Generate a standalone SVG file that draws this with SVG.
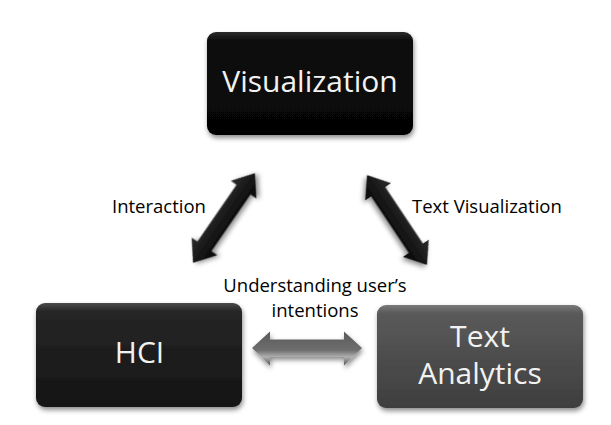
<svg xmlns="http://www.w3.org/2000/svg" width="611" height="425" viewBox="0 0 611 425">
  <style>
    .node-text { font-family: "Open Sans", "Liberation Sans", sans-serif; font-size: 30px; fill: #f2f2f2; text-anchor: middle; }
    .label { font-family: "Open Sans", "Liberation Sans", sans-serif; font-size: 18.5px; fill: #000; }
    .mid { text-anchor: middle; }
  </style>
  <defs>
    <filter id="shadow" x="-10%" y="-10%" width="120%" height="130%">
      <feDropShadow dx="1" dy="3" stdDeviation="2.5" flood-color="#000" flood-opacity="0.45"/>
    </filter>
    <linearGradient id="gVis" x1="0" y1="0" x2="0" y2="1">
      <stop offset="0" stop-color="#2a2a2a"/>
      <stop offset="0.08" stop-color="#0c0c0c"/>
      <stop offset="1" stop-color="#050505"/>
    </linearGradient>
    <linearGradient id="gHci" x1="0" y1="0" x2="0" y2="1">
      <stop offset="0" stop-color="#4a4a4a"/>
      <stop offset="0.08" stop-color="#262626"/>
      <stop offset="1" stop-color="#141414"/>
    </linearGradient>
    <linearGradient id="gTa" x1="0" y1="0" x2="0" y2="1">
      <stop offset="0" stop-color="#7a7a7a"/>
      <stop offset="0.08" stop-color="#5a5a5a"/>
      <stop offset="1" stop-color="#3e3e3e"/>
    </linearGradient>
    <linearGradient id="gArrowDark" x1="0" y1="0" x2="0" y2="1">
      <stop offset="0" stop-color="#2c2c2c"/>
      <stop offset="1" stop-color="#050505"/>
    </linearGradient>
    <linearGradient id="gArrowGray" x1="0" y1="0" x2="0" y2="1">
      <stop offset="0" stop-color="#5a5a5a"/>
      <stop offset="0.55" stop-color="#6e6e6e"/>
      <stop offset="0.75" stop-color="#b0b0b0"/>
      <stop offset="1" stop-color="#555"/>
    </linearGradient>
  </defs>

  <rect width="611" height="425" fill="#ffffff"/>

  <g id="connectors">
    <g id="arrow-interaction" transform="translate(224,218) rotate(-55.4)" filter="url(#shadow)">
      <polygon points="-54.5,0 -34.5,-15.5 -34.5,-8.5 34.5,-8.5 34.5,-15.5 54.5,0 34.5,15.5 34.5,8.5 -34.5,8.5 -34.5,15.5" fill="url(#gArrowDark)"/>
    </g>
    <g id="arrow-textvis" transform="translate(397,220) rotate(56.3)" filter="url(#shadow)">
      <polygon points="-54,0 -34,-15.5 -34,-8.5 34,-8.5 34,-15.5 54,0 34,15.5 34,8.5 -34,8.5 -34,15.5" fill="url(#gArrowDark)"/>
    </g>
    <g id="arrow-intentions" transform="translate(307,348)" filter="url(#shadow)">
      <polygon points="-55,0 -37,-16.5 -37,-8.5 37,-8.5 37,-16.5 55,0 37,17.5 37,9 -37,9 -37,17.5" fill="url(#gArrowGray)"/>
    </g>
  </g>

  <g id="node-visualization">
    <rect x="207" y="32" width="206" height="103" rx="9" fill="url(#gVis)" filter="url(#shadow)"/>
    <text class="node-text" x="310" y="92">Visualization</text>
  </g>

  <g id="node-hci">
    <rect x="36" y="303" width="206" height="104" rx="9" fill="url(#gHci)" filter="url(#shadow)"/>
    <text class="node-text" x="139.5" y="363">HCI</text>
  </g>

  <g id="node-text-analytics">
    <rect x="377" y="305" width="206" height="103" rx="9" fill="url(#gTa)" filter="url(#shadow)"/>
    <text class="node-text" x="480" y="347">Text</text>
    <text class="node-text" x="480" y="384">Analytics</text>
  </g>

  <g id="labels">
    <text class="label" x="112" y="213">Interaction</text>
    <text class="label" x="412" y="213">Text Visualization</text>
    <text class="label mid" x="315" y="292">Understanding user’s</text>
    <text class="label mid" x="315" y="317">intentions</text>
  </g>
</svg>
